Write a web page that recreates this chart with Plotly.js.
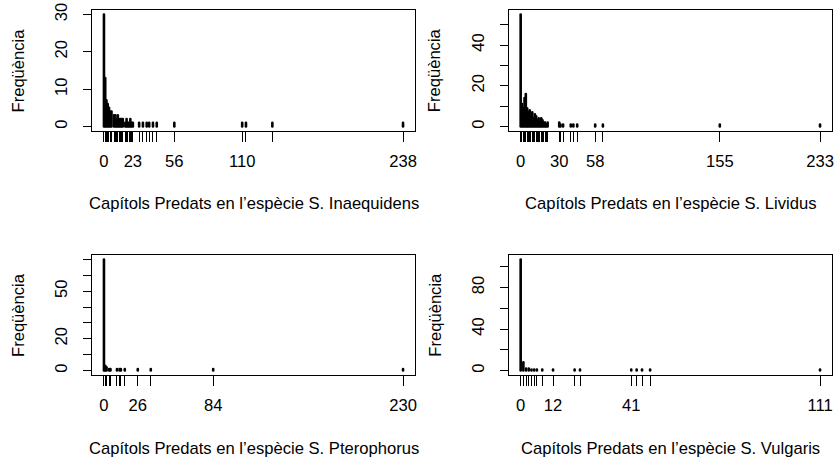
<!DOCTYPE html>
<html><head><meta charset="utf-8">
<script src="https://cdn.plot.ly/plotly-3.0.1.min.js"></script>
<style>body{margin:0;background:#fff}#c{width:834px;height:462px}
.js-line{stroke-linecap:round !important}</style>
</head><body><div id="c"></div>
<script>
// ---- data (value -> frequency) ----
const inaeqValues = [0,1,2,3,4,5,6,8,9,10,11,12,13,14,15,17,18,19,20,21,22,23,28,31,34,36,39,42,56,110,113,134,238];
const inaeqFreqs  = [30,13,7,6,5,4,4,3,3,2,3,2,2,2,2,1,2,1,1,2,1,1,1,1,1,1,1,1,1,1,1,1,1];
const inaeqLabels = {0:"0",23:"23",56:"56",110:"110",238:"238"};
const inaeqYTicks = [0,10,20,30];
const inaeqYLabels = ["0","10","20","30"];

const lividValues = [0,1,2,3,4,5,6,7,8,9,10,11,12,13,14,15,16,17,18,19,20,21,30,31,33,39,41,44,58,64,155,233];
const lividFreqs  = [55,11,9,14,16,9,7,8,5,7,4,6,5,3,4,2,4,3,2,2,1,2,2,1,1,1,1,1,1,1,1,1];
const lividLabels = {0:"0",30:"30",58:"58",155:"155",233:"233"};
const lividYTicks = [0,10,20,30,40,50];
const lividYLabels = ["0","","20","","40",""];

const pteroValues = [0,1,2,4,5,10,12,13,16,26,36,84,230];
const pteroFreqs  = [70,3,2,1,1,1,1,1,1,1,1,1,1];
const pteroLabels = {0:"0",26:"26",84:"84",230:"230"};
const pteroYTicks = [0,10,20,30,40,50,60,70];
const pteroYLabels = ["0","","20","","","50","",""];

const vulgValues = [0,1,2,3,4,5,6,8,12,20,22,41,43,45,48,111];
const vulgFreqs  = [107,8,2,2,1,1,1,1,1,1,1,1,1,1,1,1];
const vulgLabels = {0:"0",12:"12",41:"41",111:"111"};
const vulgYTicks = [0,20,40,60,80,100];
const vulgYLabels = ["0","","40","","80",""];

const species = ["S. Inaequidens","S. Lividus","S. Pterophorus","S. Vulgaris"];
const xTitlePrefix = "Capítols Predats en l’espècie ";
const yTitle = "Freqüència";

// ---- layout geometry (pixels) ----
const W = 834, H = 462;
const panels = [
  {vals:inaeqValues, fr:inaeqFreqs, lab:inaeqLabels, yt:inaeqYTicks, yl:inaeqYLabels, x0:92, x1:415, y0:10, y1:131},
  {vals:lividValues, fr:lividFreqs, lab:lividLabels, yt:lividYTicks, yl:lividYLabels, x0:508.7, x1:832, y0:10, y1:131},
  {vals:pteroValues, fr:pteroFreqs, lab:pteroLabels, yt:pteroYTicks, yl:pteroYLabels, x0:92, x1:415, y0:255, y1:375},
  {vals:vulgValues, fr:vulgFreqs, lab:vulgLabels, yt:vulgYTicks, yl:vulgYLabels, x0:508.7, x1:832, y0:255, y1:375}
];
const font = {family:"Liberation Sans, Arial, sans-serif", size:16.6, color:"#000"};
const traces = [], layout = {
  width:W, height:H, margin:{l:0,r:0,t:0,b:0}, showlegend:false,
  paper_bgcolor:"#fff", plot_bgcolor:"#fff", font:font, annotations:[]
};
panels.forEach((p,i)=>{
  const n = i+1, xa = "xaxis"+(n===1?"":n), ya = "yaxis"+(n===1?"":n);
  const xs=[], ys=[];
  p.vals.forEach((v,k)=>{xs.push(v,v,null); ys.push(0,p.fr[k],null);});
  traces.push({type:"scatter", mode:"lines", x:xs, y:ys, xaxis:"x"+(n===1?"":n), yaxis:"y"+(n===1?"":n),
    line:{color:"#000", width:2.6}, hoverinfo:"skip", cliponaxis:false});
  const mn=Math.min(...p.vals), mx=Math.max(...p.vals), fm=Math.max(...p.fr);
  const dx=(mx-mn)*0.04, dy=fm*0.04;
  layout[xa] = {domain:[p.x0/W, p.x1/W], anchor:"y"+(n===1?"":n), range:[mn-dx, mx+dx],
    tickmode:"array", tickvals:p.vals, ticktext:p.vals.map(v=>p.lab[v]!==undefined?p.lab[v]:""),
    ticks:"outside", ticklen:10, tickwidth:1, tickcolor:"#000", showline:true, mirror:true,
    linecolor:"#000", linewidth:1, showgrid:false, zeroline:false, tickangle:0,
    ticklabelstandoff:5, tickfont:font, fixedrange:true};
  layout[ya] = {domain:[1-p.y1/H, 1-p.y0/H], anchor:"x"+(n===1?"":n), range:[-dy, fm+dy],
    tickmode:"array", tickvals:p.yt, ticktext:p.yl,
    ticks:"outside", ticklen:8, tickwidth:1, tickcolor:"#000", showline:true, mirror:true,
    linecolor:"#000", linewidth:1, showgrid:false, zeroline:false, tickangle:-90,
    ticklabelstandoff:9, tickfont:font, fixedrange:true};
  const cx=(p.x0+p.x1)/2, cy=(p.y0+p.y1)/2;
  layout.annotations.push({text:xTitlePrefix+species[i], xref:"paper", yref:"paper",
    x:cx/W, y:1-(p.y1+73)/H, xanchor:"center", yanchor:"middle", showarrow:false, font:font});
  layout.annotations.push({text:yTitle, xref:"paper", yref:"paper", textangle:-90,
    x:(p.x0-74)/W, y:1-cy/H, xanchor:"center", yanchor:"middle", showarrow:false, font:font});
});
Plotly.newPlot("c", traces, layout, {staticPlot:true});
</script></body></html>
